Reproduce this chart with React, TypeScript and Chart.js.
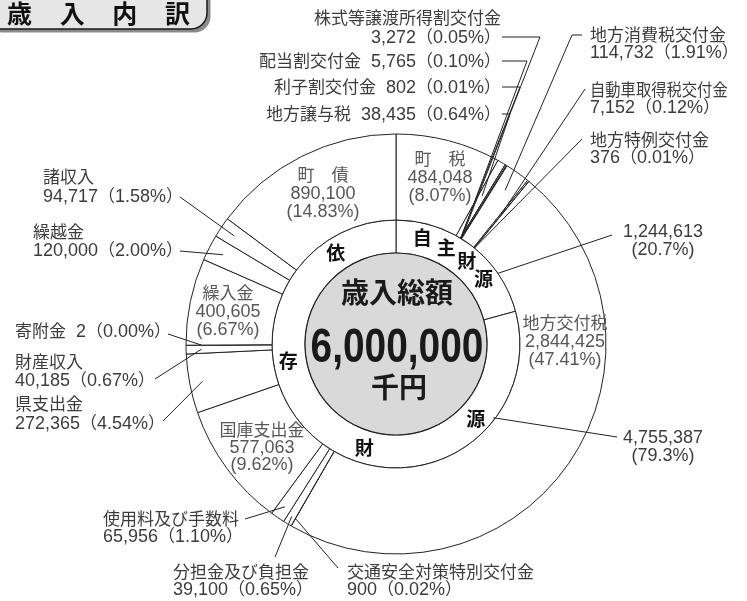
import React, { useEffect, useRef } from 'react';
import { Chart, registerables } from 'chart.js';

Chart.register(...registerables);

// ---------- data ----------
const titleText = '歳入内訳';
const categories = [
  '町税', '地方譲与税', '利子割交付金', '配当割交付金', '株式等譲渡所得割交付金',
  '地方消費税交付金', '自動車取得税交付金', '地方特例交付金', '地方交付税', '交通安全対策特別交付金',
  '分担金及び負担金', '使用料及び手数料', '国庫支出金', '県支出金', '財産収入',
  '寄附金', '繰入金', '繰越金', '諸収入', '町債',
];
const amounts = [
  484048, 38435, 802, 5765, 3272,
  114732, 7152, 376, 2844425, 900,
  39100, 65956, 577063, 272365, 40185,
  2, 400605, 120000, 94717, 890100,
];
const shares = [
  '8.07', '0.64', '0.01', '0.10', '0.05',
  '1.91', '0.12', '0.01', '47.41', '0.02',
  '0.65', '1.10', '9.62', '4.54', '0.67',
  '0.00', '6.67', '2.00', '1.58', '14.83',
];
const sourceGroups = ['自主財源', '依存財源'];
const sourceAmounts = [1244613, 4755387];
const sourceShares = ['20.7', '79.3'];
const totalLabel = '歳入総額';
const totalUnit = '千円';

// ---------- layout (label placement only) ----------
type OutL = { align: 'left' | 'right'; x: number; ys: number[]; single?: boolean; squeeze?: number; path: number[][]; t: number; rf: number };
const outLayout: Record<number, OutL> = {
  1: { align: 'right', x: 501, ys: [114], single: true, path: [[502, 114], [510, 114]], t: 0.5, rf: 0.55 },
  2: { align: 'right', x: 501, ys: [87], single: true, path: [[502, 87], [520, 87]], t: 0.5, rf: 0 },
  3: { align: 'right', x: 501, ys: [61], single: true, path: [[502, 61], [527, 61]], t: 0.5, rf: 0 },
  4: { align: 'right', x: 501, ys: [18, 37], path: [[502, 37], [540, 37]], t: 0.5, rf: 0 },
  5: { align: 'left', x: 590, ys: [35, 52], path: [[582, 35], [572, 35]], t: 0.5, rf: 0.75 },
  6: { align: 'left', x: 590, ys: [90, 107], squeeze: 0.9, path: [[585, 89]], t: 0.5, rf: 0.5 },
  7: { align: 'left', x: 590, ys: [140, 157], path: [[582, 139]], t: 0.5, rf: 0 },
  9: { align: 'left', x: 347, ys: [572, 589], path: [[338, 568]], t: 0.5, rf: 0.9 },
  10: { align: 'left', x: 173, ys: [572, 589], path: [[275, 557]], t: 0.5, rf: 0.9 },
  11: { align: 'left', x: 103, ys: [519, 536], path: [[245, 519]], t: 0.5, rf: 0.85 },
  13: { align: 'left', x: 15, ys: [404, 423], path: [[163, 421]], t: 0.5, rf: 0.85 },
  14: { align: 'left', x: 15, ys: [362, 380], path: [[155, 379]], t: 0.5, rf: 0.82 },
  15: { align: 'left', x: 15, ys: [331], single: true, path: [[168, 334]], t: 0.5, rf: 0.82 },
  17: { align: 'left', x: 33, ys: [232, 250], path: [[180, 251]], t: 0.5, rf: 0.82 },
  18: { align: 'left', x: 43, ys: [177, 196], path: [[180, 197]], t: 0.5, rf: 0.82 },
};
const inLayout: Record<number, { x: number; ys: number[] }> = {
  0: { x: 440, ys: [159, 177, 195] },
  8: { x: 565, ys: [323, 341, 359] },
  12: { x: 262, ys: [430, 447, 464] },
  16: { x: 228, ys: [293, 311, 329] },
  19: { x: 323, ys: [175, 193, 211] },
};
const srcLayout = [
  { x: 663, ys: [231, 249], from: [612, 235], t: 0.74, rf: 1 },
  { x: 663, ys: [437, 455], from: [617, 437], t: 0.184, rf: 0.94 },
];
const srcCharAngles = [[14, 27.5, 40.5, 53.5], [326.5, 261, 197, 133]];

// ---------- text helpers ----------
type Sz = { cjk: number; lat: number; bold?: boolean };
function runsOf(text: string) {
  const out: { lat: boolean; s: string }[] = [];
  for (const ch of text) {
    const lat = ch.charCodeAt(0) < 0x2000;
    if (out.length && out[out.length - 1].lat === lat) out[out.length - 1].s += ch;
    else out.push({ lat, s: ch });
  }
  return out;
}
function fontOf(lat: boolean, sz: Sz) {
  const w = sz.bold ? 'bold ' : '';
  return lat ? `${w}${sz.lat}px "Liberation Sans", sans-serif` : `${w}${sz.cjk}px "Noto Sans CJK JP", sans-serif`;
}
function mixedWidth(ctx: CanvasRenderingContext2D, text: string, sz: Sz) {
  let w = 0;
  for (const r of runsOf(text)) {
    ctx.font = fontOf(r.lat, sz);
    w += ctx.measureText(r.s).width;
  }
  return w;
}
function drawMixed(ctx: CanvasRenderingContext2D, text: string, x: number, yc: number, align: string, sz: Sz, color: string, squeeze = 1) {
  const w = mixedWidth(ctx, text, sz) * squeeze;
  const sx0 = align === 'left' ? x : align === 'right' ? x - w : x - w / 2;
  ctx.save();
  ctx.translate(sx0, yc + 0.37 * sz.cjk);
  ctx.scale(squeeze, 1);
  ctx.textAlign = 'left';
  ctx.textBaseline = 'alphabetic';
  ctx.fillStyle = color;
  let sx = 0;
  for (const r of runsOf(text)) {
    ctx.font = fontOf(r.lat, sz);
    ctx.fillText(r.s, sx, 0);
    sx += ctx.measureText(r.s).width;
  }
  ctx.restore();
}
const fmt = (v: number) => v.toLocaleString('en-US');
const spaced = (n: string) => (n.length === 2 ? n[0] + '　' + n[1] : n);

function anchor(arc: any, t: number, rf: number) {
  const p = arc.getProps(['x', 'y', 'startAngle', 'endAngle', 'innerRadius', 'outerRadius'], true);
  const a = p.startAngle + (p.endAngle - p.startAngle) * t;
  const r = p.innerRadius + (p.outerRadius - p.innerRadius) * rf;
  return [p.x + r * Math.cos(a), p.y + r * Math.sin(a)];
}

const LABEL = '#3c3c3c';
const INLABEL = '#575757';
const LINE = '#222222';
const SZ: Sz = { cjk: 17, lat: 18 };

const overlay = {
  id: 'overlay',
  afterDatasetsDraw(chart: any) {
    const ctx: CanvasRenderingContext2D = chart.ctx;
    const m0 = chart.getDatasetMeta(0);
    const m1 = chart.getDatasetMeta(1);
    const p1 = m1.data[0].getProps(['x', 'y', 'innerRadius', 'outerRadius'], true);
    const cx = p1.x, cy = p1.y;
    ctx.save();

    // center disc
    ctx.beginPath();
    ctx.arc(cx, cy, p1.innerRadius, 0, Math.PI * 2);
    ctx.fillStyle = '#d9d9d9';
    ctx.fill();
    ctx.lineWidth = 1.2;
    ctx.strokeStyle = LINE;
    ctx.stroke();

    // center texts
    ctx.fillStyle = '#1a1a1a';
    ctx.textAlign = 'center';
    ctx.textBaseline = 'alphabetic';
    ctx.font = 'bold 28px "Noto Sans CJK JP", sans-serif';
    ctx.fillText(totalLabel, cx + 1, cy - 51.5 + 0.38 * 28);
    const total = amounts.reduce((a, b) => a + b, 0);
    ctx.save();
    ctx.translate(cx + 1, cy + 0.5 + 0.358 * 48);
    ctx.scale(0.81, 1);
    ctx.font = 'bold 48px "Liberation Sans", sans-serif';
    ctx.fillText(fmt(total), 0, 0);
    ctx.restore();
    ctx.font = 'bold 28px "Noto Sans CJK JP", sans-serif';
    ctx.fillText(totalUnit, cx + 3, cy + 43.5 + 0.38 * 28);

    // inner ring characters
    const rMid = (p1.innerRadius + p1.outerRadius) / 2 + 1.5;
    ctx.font = 'bold 19px "Noto Sans CJK JP", sans-serif';
    ctx.fillStyle = '#111111';
    ctx.textAlign = 'center';
    sourceGroups.forEach((g, gi) => {
      [...g].forEach((ch, ci) => {
        const th = (srcCharAngles[gi][ci] * Math.PI) / 180;
        const x = cx + rMid * Math.sin(th);
        const y = cy - rMid * Math.cos(th);
        ctx.fillText(ch, x, y + 0.38 * 19);
      });
    });

    // leaders
    ctx.strokeStyle = LINE;
    ctx.lineWidth = 1;
    Object.keys(outLayout).forEach((k) => {
      const i = +k;
      const L = outLayout[i];
      const end = anchor(m0.data[i], L.t, L.rf);
      ctx.beginPath();
      ctx.moveTo(L.path[0][0], L.path[0][1]);
      for (let j = 1; j < L.path.length; j++) ctx.lineTo(L.path[j][0], L.path[j][1]);
      ctx.lineTo(end[0], end[1]);
      ctx.stroke();
    });
    srcLayout.forEach((L, i) => {
      const end = anchor(m1.data[i], L.t, L.rf);
      ctx.beginPath();
      ctx.moveTo(L.from[0], L.from[1]);
      ctx.lineTo(end[0], end[1]);
      ctx.stroke();
    });

    // outside labels
    Object.keys(outLayout).forEach((k) => {
      const i = +k;
      const L = outLayout[i];
      const valueText = `${fmt(amounts[i])}（${shares[i]}%）`;
      if (L.single) {
        drawMixed(ctx, `${categories[i]}  ${valueText}`, L.x, L.ys[0], L.align, SZ, LABEL);
      } else {
        drawMixed(ctx, categories[i], L.x, L.ys[0], L.align, SZ, LABEL, L.squeeze || 1);
        drawMixed(ctx, valueText, L.x, L.ys[1], L.align, SZ, LABEL);
      }
    });
    // inside labels
    Object.keys(inLayout).forEach((k) => {
      const i = +k;
      const L = inLayout[i];
      drawMixed(ctx, spaced(categories[i]), L.x, L.ys[0], 'center', SZ, INLABEL);
      drawMixed(ctx, fmt(amounts[i]), L.x, L.ys[1], 'center', SZ, INLABEL);
      drawMixed(ctx, `(${shares[i]}%)`, L.x, L.ys[2], 'center', SZ, INLABEL);
    });
    // source labels
    srcLayout.forEach((L, i) => {
      drawMixed(ctx, fmt(sourceAmounts[i]), L.x, L.ys[0], 'center', SZ, LABEL);
      drawMixed(ctx, `(${sourceShares[i]}%)`, L.x, L.ys[1], 'center', SZ, LABEL);
    });

    // title box
    ctx.beginPath();
    ctx.roundRect(-16 + 3.5, -30 + 3.5, 223, 59, 16);
    ctx.fillStyle = '#8a8a8a';
    ctx.fill();
    ctx.beginPath();
    ctx.roundRect(-16, -30, 223, 59, 16);
    ctx.fillStyle = '#e6e6e6';
    ctx.fill();
    ctx.lineWidth = 1.5;
    ctx.strokeStyle = '#1a1a1a';
    ctx.stroke();
    ctx.fillStyle = '#111111';
    ctx.font = 'bold 25px "Noto Sans CJK JP", sans-serif';
    ctx.textAlign = 'center';
    [...titleText].forEach((ch, i) => {
      ctx.fillText(ch, 19.5 + i * 52.67, 13.5 + 0.38 * 25);
    });

    ctx.restore();
  },
};

export default function App() {
  const ref = useRef<HTMLCanvasElement>(null);
  useEffect(() => {
    document.body.style.margin = '0';
    const chart = new Chart(ref.current as HTMLCanvasElement, {
      type: 'doughnut',
      data: {
        labels: categories,
        datasets: [
          {
            data: amounts,
            backgroundColor: '#ffffff',
            borderColor: LINE,
            borderWidth: 1,
            weight: 86,
            hoverOffset: 0,
            offset: 0,
          } as any,
          {
            data: sourceAmounts,
            backgroundColor: '#ffffff',
            borderColor: LINE,
            borderWidth: 1,
            weight: 33,
            hoverOffset: 0,
            offset: 0,
          } as any,
        ],
      },
      options: {
        responsive: false,
        animation: false,
        radius: 210,
        cutout: '43.33%',
        layout: { padding: { left: 45, top: 87, right: 0, bottom: 0 } },
        plugins: { legend: { display: false }, tooltip: { enabled: false } },
        events: [],
      } as any,
      plugins: [overlay],
    });
    return () => chart.destroy();
  }, []);
  return (
    <div style={{ width: 747, height: 601, background: '#ffffff' }}>
      <canvas ref={ref} width={747} height={601} style={{ display: 'block' }} />
    </div>
  );
}
